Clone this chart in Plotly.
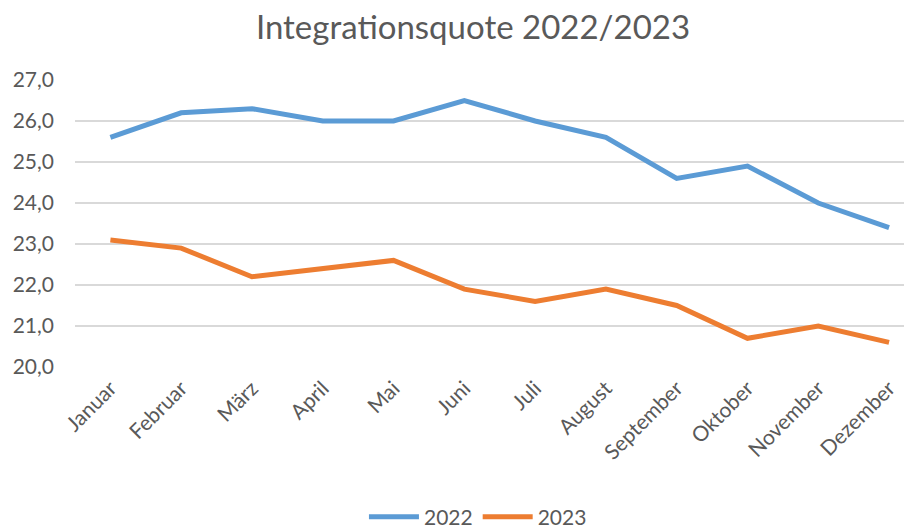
import plotly.graph_objects as go

months = ["Januar", "Februar", "März", "April", "Mai", "Juni", "Juli", "August",
          "September", "Oktober", "November", "Dezember"]
y2022 = [25.6, 26.2, 26.3, 26.0, 26.0, 26.5, 26.0, 25.6, 24.6, 24.9, 24.0, 23.4]
y2023 = [23.1, 22.9, 22.2, 22.4, 22.6, 21.9, 21.6, 21.9, 21.5, 20.7, 21.0, 20.6]
yticks = [20, 21, 22, 23, 24, 25, 26, 27]
ytick_labels = ["20,0", "21,0", "22,0", "23,0", "24,0", "25,0", "26,0", "27,0"]

FONT = "Lato, 'Open Sans', sans-serif"
TXT = "#595959"

fig = go.Figure()
fig.add_trace(go.Scatter(x=list(range(len(months))), y=y2022, name="2022", mode="lines",
                         line=dict(color="#5B9BD5", width=5)))
fig.add_trace(go.Scatter(x=list(range(len(months))), y=y2023, name="2023", mode="lines",
                         line=dict(color="#ED7D31", width=5)))

fig.update_layout(
    width=904, height=520,
    margin=dict(l=67, r=1, t=72, b=161, autoexpand=False),
    paper_bgcolor="white", plot_bgcolor="white",
    font=dict(family=FONT, color=TXT),
    title=dict(text="Integrationsquote 2022/2023", x=0.5144, xref="container", xanchor="center",
               y=0.985, yanchor="top", font=dict(size=33, color=TXT, family=FONT)),
    xaxis=dict(tickmode="array", tickvals=list(range(len(months))), ticktext=months,
               range=[-0.5, 11.31], tickangle=-45, showgrid=False, zeroline=False,
               showline=False, tickfont=dict(size=21, color=TXT), automargin=False,
               ticklabelstandoff=4),
    yaxis=dict(tickmode="array", tickvals=yticks, ticktext=ytick_labels, range=[20, 27],
               showgrid=True, gridcolor="#D9D9D9", gridwidth=1.5, zeroline=False,
               tickfont=dict(size=21, color=TXT), ticks="", ticklen=0, automargin=False,
               ticklabelstandoff=20),
    legend=dict(orientation="h", x=0.482, xanchor="center", y=-0.523, yanchor="middle",
                font=dict(size=21, color=TXT), itemwidth=50),
    showlegend=True,
)

fig.write_html("out.html")
